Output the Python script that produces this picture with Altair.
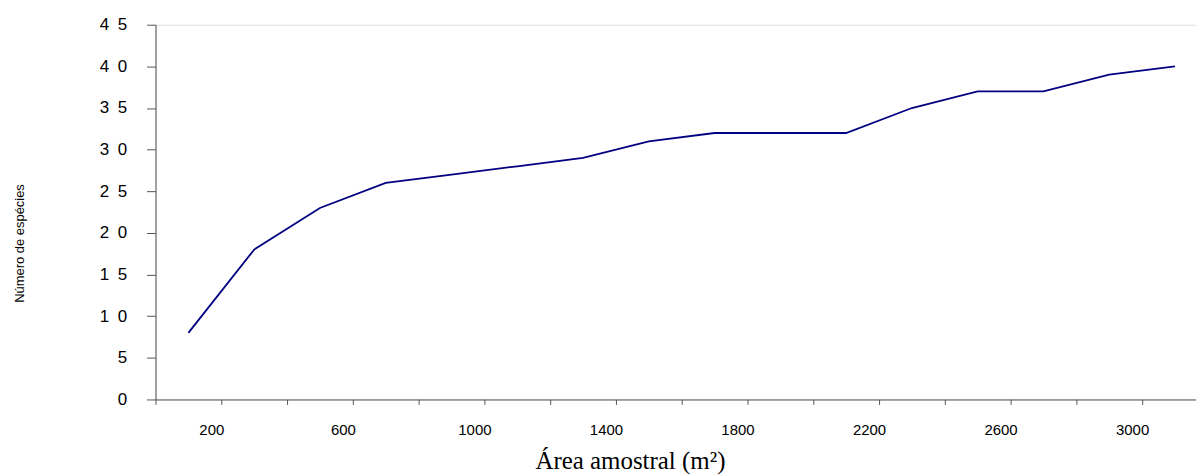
import altair as alt
import pandas as pd

# Data
area = [100, 300, 500, 700, 900, 1100, 1300, 1500, 1700, 1900, 2100, 2300, 2500, 2700, 2900, 3100]
especies = [8, 18, 23, 26, 27, 28, 29, 31, 32, 32, 32, 35, 37, 37, 39, 40]
x_ticks = list(range(0, 3001, 200))
y_ticks = list(range(0, 46, 5))

df = pd.DataFrame({"area": area, "especies": especies})

SANS = "Arial, Liberation Sans, sans-serif"
SERIF = "Times New Roman, Liberation Serif, serif"

chart = alt.Chart(df).mark_line(color="#000080", strokeWidth=1.8).encode(
    x=alt.X(
        "area:Q",
        scale=alt.Scale(domain=[0, 3164], nice=False, zero=False),
        axis=alt.Axis(
            values=x_ticks,
            format="d",
            labelExpr="(datum.value - 200) % 400 == 0 ? datum.label : ''",
            title="Área amostral (m²)",
            titleFont=SERIF,
            titleFontSize=25,
            titleFontWeight="normal",
            titleColor="black",
            titleX=476,
            titleY=69,
            titleAlign="center",
            titleBaseline="alphabetic",
            labelFont=SANS,
            labelFontSize=15,
            labelColor="black",
            labelOffset=-10,
            labelPadding=18,
            labelFlush=False,
            labelOverlap=False,
            tickSize=5,
            tickColor="#555555",
            domainColor="#555555",
            grid=False,
        ),
    ),
    y=alt.Y(
        "especies:Q",
        scale=alt.Scale(domain=[0, 45], nice=False),
        axis=alt.Axis(
            values=y_ticks,
            labelExpr="datum.value >= 10 ? floor(datum.value / 10) + '\u2002' + (datum.value % 10) : datum.label",
            title="Número de espécies",
            titleFont=SANS,
            titleFontSize=13,
            titleFontWeight="normal",
            titleColor="black",
            titleAngle=-90,
            titleX=-136,
            titleY=219,
            titleAlign="center",
            titleBaseline="middle",
            labelFont=SANS,
            labelFontSize=17,
            labelColor="black",
            labelPadding=20,
            labelBaseline="middle",
            tickSize=9,
            tickColor="#555555",
            domainColor="#555555",
            grid=False,
        ),
    ),
).properties(
    width=1044,
    height=376,
    autosize=alt.AutoSizeParams(type="none"),
    padding={"left": 148, "top": 16, "right": 0, "bottom": 76},
).configure_view(stroke=None).configure(background="white")

chart.save("out.html", embed_options={"renderer": "svg", "actions": False})
